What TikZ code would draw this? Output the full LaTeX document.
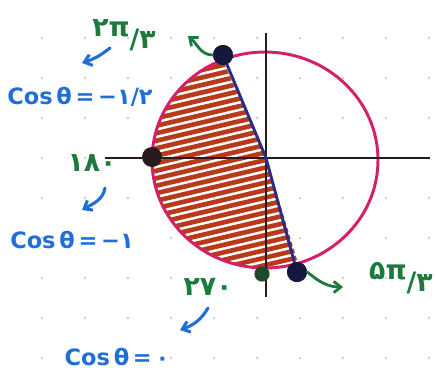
\documentclass[tikz,border=0pt]{standalone}
\usepackage{fontspec}
\setmainfont{DejaVu Sans}
\usetikzlibrary{arrows.meta,calc}
\definecolor{ucPink}{HTML}{D61F69}
\definecolor{ucAxis}{HTML}{2A1A1F}
\definecolor{ucNavy}{HTML}{2D2C85}
\definecolor{ucDot}{HTML}{17173D}
\definecolor{ucHatch}{HTML}{B83A1B}
\definecolor{ucGreen}{HTML}{1B7A3C}
\definecolor{ucDkGreen}{HTML}{1E4A2C}
\definecolor{ucBlue}{HTML}{1F6FD8}
\definecolor{ucGrid}{HTML}{C9CDD4}
\begin{document}
\begin{tikzpicture}[
  x=0.25mm,y=0.25mm,
  ang/.style={text=ucGreen,font=\fontsize{19}{22}\selectfont\bfseries,inner sep=0pt},
  cosl/.style={text=ucBlue,font=\fontsize{16}{18}\selectfont\bfseries,inner sep=0pt},
  hint/.style={ucBlue,line width=2.2pt,line cap=round,-{Straight Barb[length=5pt,width=8pt]}},
  gtag/.style={ucGreen,line width=2pt,line cap=round,-{Straight Barb[length=5pt,width=8pt]}},
  dot/.style={circle,fill=ucDot,inner sep=0pt,minimum size=5mm}
]
\useasboundingbox (-266,-228) rectangle (170,158);
% paper dots
\foreach \i in {0,...,9}
  \foreach \j in {0,...,8}
    \fill[ucGrid] ({-224+43*\i},{120-40*\j}) circle (1.3);
\coordinate (c) at (-1,-2);
\coordinate (o) at (0,0);
% shaded half
\begin{scope}
  \clip (c) ++(112:113 and 108) arc[start angle=112,end angle=287,x radius=113,y radius=108] -- (o) -- cycle;
  \foreach \k in {-160,-152.5,...,120}
    \draw[ucHatch,line width=3.3pt] (-130,\k) -- (40,\k+40);
\end{scope}
\draw[ucPink,line width=2.1pt] (c) ellipse[x radius=113,y radius=108];
\draw[ucAxis,line width=2.1pt] (-161,0) -- (164,0);
\draw[ucAxis,line width=2.1pt] (0,125) -- (0,-139);
\node[dot] (p1) at (-43,103) {};
\node[dot] (p2) at (31,-114) {};
\node[dot,fill=ucAxis] (p3) at (-114,1) {};
\node[dot,fill=ucDkGreen,minimum size=3.8mm] (p4) at (-4,-116) {};
\draw[ucNavy,line width=2.1pt] (p1.center) -- (o) -- (p2.center);
\node[dot] at (p1) {};
\node[dot] at (p2) {};
% labels
\node[ang] (l1) at (-142,123) {۲π\raisebox{-0.45em}{/۳}};
\node[cosl] (c1) at (-186,61) {Cos\,θ\,=\,−۱/۲};
\node[ang] (l2) at (-174,-5) {۱۸۰};
\node[cosl] (c2) at (-194,-82) {Cos\,θ\,=\,−۱};
\node[ang] (l3) at (-58,-129) {۲۷۰};
\node[cosl] (c3) at (-149,-199) {Cos\,θ\,=\,۰};
\node[ang,anchor=east] (l4) at (167,-120) {۵π\raisebox{-0.45em}{/۳}};
% arrows
\coordinate (g1) at (-78,122);
\coordinate (g2) at (77,-129);
\draw[gtag] (p1.west) to[out=180,in=-40] (g1);
\draw[gtag] (p2.east) to[out=-40,in=180] (g2);
\coordinate (b1s) at (-156,110);
\coordinate (b1e) at (-184,95);
\coordinate (b2s) at (-161,-30);
\coordinate (b2e) at (-184,-52);
\coordinate (b3s) at (-58,-150);
\coordinate (b3e) at (-86,-172);
\draw[hint] (b1s) to[bend left=10] (b1e);
\draw[hint] (b2s) to[out=-100,in=30] (b2e);
\draw[hint] (b3s) to[out=-120,in=20] (b3e);
\end{tikzpicture}
\end{document}
